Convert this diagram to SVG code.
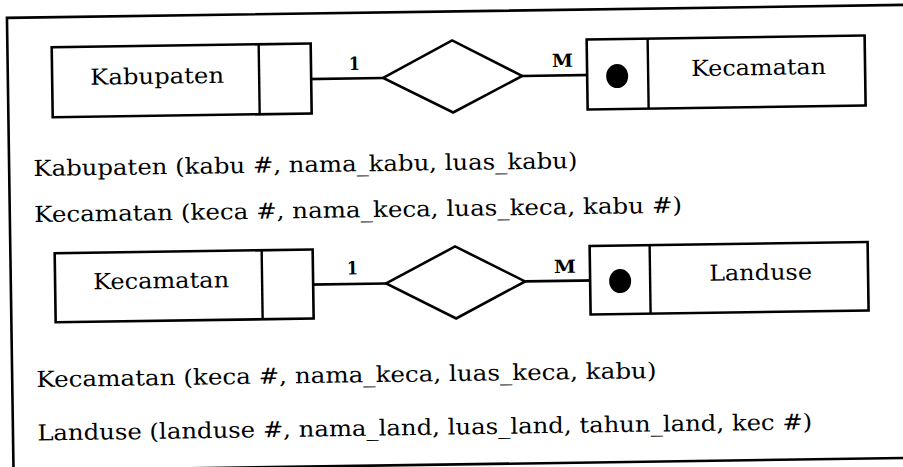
<svg xmlns="http://www.w3.org/2000/svg" width="903" height="467" viewBox="0 0 903 467">
  <style>
    .box { fill: #ffffff; stroke: #000000; stroke-width: 2.6; }
    .div { stroke: #000000; stroke-width: 2.4; fill: none; }
    .conn { stroke: #000000; stroke-width: 2.6; fill: none; }
    .frame { stroke: #000000; stroke-width: 2.6; fill: none; }
    .lbl { font-family: "DejaVu Serif", "Liberation Serif", serif; font-size: 22px; fill: #000000; }
    .card { font-family: "DejaVu Serif", "Liberation Serif", serif; font-size: 18px; font-weight: bold; fill: #000000; }
    .rel { font-family: "DejaVu Serif", "Liberation Serif", serif; font-size: 22px; fill: #000000; }
  </style>
  <rect x="0" y="0" width="903" height="467" fill="#ffffff"/>
  <g transform="rotate(-0.83)">
    <g id="frame">
      <path class="frame" d="M 6.7 490 L 6.7 18 L 925 18"/>
      <path class="frame" d="M 150 471 L 925 471"/>
    </g>

    <g id="connectors">
      <line class="conn" x1="286" y1="83.5" x2="382" y2="83.5"/>
      <line class="conn" x1="521" y1="83.5" x2="612" y2="83.5"/>
      <text class="card" x="348" y="75" textLength="11" lengthAdjust="spacingAndGlyphs">1</text>
      <text class="card" x="551" y="75" textLength="21" lengthAdjust="spacingAndGlyphs">M</text>
      <line class="conn" x1="286" y1="289" x2="382" y2="289"/>
      <line class="conn" x1="521" y1="289" x2="612" y2="289"/>
      <text class="card" x="343" y="279.5" textLength="11" lengthAdjust="spacingAndGlyphs">1</text>
      <text class="card" x="550" y="281" textLength="22" lengthAdjust="spacingAndGlyphs">M</text>
    </g>

    <g id="kabupaten">
      <rect class="box" x="51" y="48" width="259" height="70"/>
      <line class="div" x1="258" y1="48" x2="258" y2="118"/>
      <text class="lbl" x="89" y="86" textLength="134" lengthAdjust="spacingAndGlyphs">Kabupaten</text>
    </g>

    <g id="rel1">
      <polygon class="conn" points="382,83.5 451.5,47 521,83.5 451.5,119"/>
    </g>

    <g id="kecamatan1">
      <rect class="box" x="586" y="48" width="278" height="70"/>
      <line class="div" x1="647" y1="48" x2="647" y2="118"/>
      <ellipse cx="616" cy="85" rx="11" ry="12" fill="#000000"/>
      <text class="lbl" x="690" y="86" textLength="135" lengthAdjust="spacingAndGlyphs">Kecamatan</text>
    </g>

    <g id="kecamatan2">
      <rect class="box" x="51" y="254" width="258" height="69"/>
      <line class="div" x1="258" y1="254" x2="258" y2="323"/>
      <text class="lbl" x="89" y="290.5" textLength="136" lengthAdjust="spacingAndGlyphs">Kecamatan</text>
    </g>

    <g id="rel2">
      <polygon class="conn" points="382,289 451.5,253 521,289 451.5,325"/>
    </g>

    <g id="landuse">
      <rect class="box" x="586" y="254.5" width="278" height="68.5"/>
      <line class="div" x1="646" y1="254.5" x2="646" y2="323"/>
      <ellipse cx="616" cy="290" rx="11" ry="12" fill="#000000"/>
      <text class="lbl" x="705" y="291" textLength="103" lengthAdjust="spacingAndGlyphs">Landuse</text>
    </g>

    <g id="relations">
      <text class="rel" x="31" y="176.5" textLength="544" lengthAdjust="spacingAndGlyphs">Kabupaten (kabu #, nama_kabu, luas_kabu)</text>
      <text class="rel" x="31" y="222.5" textLength="648" lengthAdjust="spacingAndGlyphs">Kecamatan (keca #, nama_keca, luas_keca, kabu #)</text>
      <text class="rel" x="31" y="387.5" textLength="620" lengthAdjust="spacingAndGlyphs">Kecamatan (keca #, nama_keca, luas_keca, kabu)</text>
      <text class="rel" x="31" y="441" textLength="775" lengthAdjust="spacingAndGlyphs">Landuse (landuse #, nama_land, luas_land, tahun_land, kec #)</text>
    </g>
  </g>
</svg>
